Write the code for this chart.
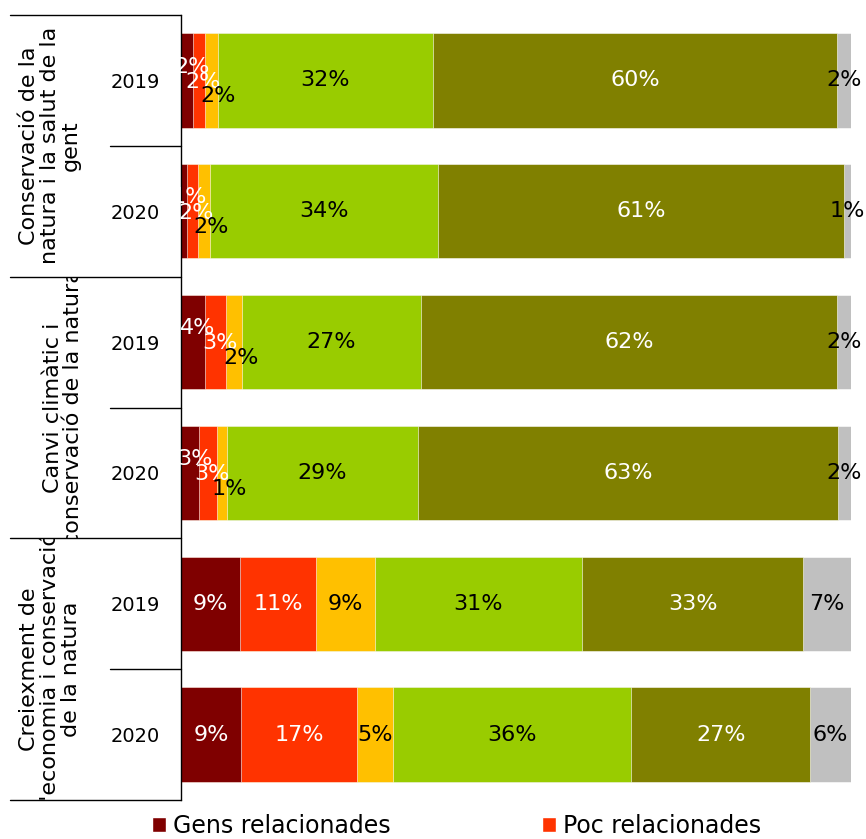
import numpy as np, pandas as pd, seaborn as sns, matplotlib.pyplot as plt
from matplotlib.patches import Rectangle, Patch
from matplotlib.transforms import blended_transform_factory

# dades (percentatges llegits de la figura)
groups = [
    "Conservació de la\nnatura i la salut de la\ngent",
    "Canvi climàtic i\nconservació de la natura",
    "Creiexment de\nl'economia i conservació\nde la natura",
]
years = ["2019", "2020"]
legend_labels = ["Gens relacionades", "Poc relacionades"]

conservacio_2019 = [1.8, 1.8, 1.9, 32.1, 60.3, 2.1]
conservacio_2020 = [0.9, 1.6, 1.9, 34.0, 60.6, 1.0]
clima_2019 = [3.6, 3.1, 2.4, 26.7, 62.1, 2.1]
clima_2020 = [2.7, 2.7, 1.4, 28.6, 62.6, 2.0]
economia_2019 = [8.8, 11.3, 8.8, 31.0, 32.9, 7.2]
economia_2020 = [9.0, 17.2, 5.4, 35.6, 26.7, 6.1]

colors = ["#7f0000", "#ff3300", "#ffc000", "#99cc00", "#808000", "#c0c0c0"]
text_colors = ["white", "white", "black", "black", "white", "black"]

rows = [conservacio_2019, conservacio_2020, clima_2019, clima_2020,
        economia_2019, economia_2020]
row_keys = [f"{g}|{y}" for g in range(len(groups)) for y in years]

recs = []
for key, vals in zip(row_keys, rows):
    ends = np.cumsum(vals)
    for k, (v, e) in enumerate(zip(vals, ends)):
        recs.append({"row": key, "seg": k, "value": v, "end": e, "start": e - v})
df = pd.DataFrame(recs)

sns.set_style("white")
plt.rcParams["font.family"] = ["DejaVu Sans"]
plt.rcParams["text.color"] = "black"
plt.rcParams["ytick.color"] = "black"

fig = plt.figure(figsize=(8.66, 8.39), dpi=100)
ax = fig.add_axes([181 / 866, 1 - 800 / 839, 670 / 866, 785 / 839])

# barres apilades: de la suma total cap a la primera
for k in reversed(range(len(colors))):
    sns.barplot(
        data=df[df["seg"] == k], x="end", y="row", order=row_keys,
        color=colors[k], saturation=1, width=0.72, orient="h",
        errorbar=None, edgecolor="white", linewidth=0.4, ax=ax,
    )

ax.set_xlim(0, 100)
ax.set_ylim(len(row_keys) - 0.5, -0.5)
ax.set_xlabel("")
ax.set_ylabel("")
ax.set_xticks([])
ax.set_yticks(range(len(row_keys)))
ax.set_yticklabels(years * len(groups), fontsize=14, color="black")
ax.tick_params(axis="y", length=0, pad=15)
sns.despine(ax=ax, bottom=True)
ax.spines["left"].set_color("black")
ax.spines["left"].set_linewidth(1)

# etiquetes de percentatge
small_off = [(3.5, 10), (3, -1), (5, -11.5)]
for _, r in df.iterrows():
    i = row_keys.index(r["row"])
    k = int(r["seg"])
    off = (0, 0)
    if k < 3 and r["value"] < 5:
        off = small_off[k]
    ax.annotate(f"{round(r['value'])}%", (r["start"] + r["value"] / 2, i),
                xytext=off, textcoords="offset points", ha="center",
                va="center", fontsize=16, color=text_colors[k],
                annotation_clip=False)

# eix de categories de dos nivells
blend = blended_transform_factory(fig.transFigure, ax.transData)
for b in [-0.5, 1.5, 3.5, 5.5]:
    ax.plot([10 / 866, 181 / 866], [b, b], color="black", lw=1,
            transform=blend, clip_on=False)
for b in [0.5, 2.5, 4.5]:
    ax.plot([110 / 866, 181 / 866], [b, b], color="black", lw=1,
            transform=blend, clip_on=False)

group_x = [50, 63, 50]
for g, name in enumerate(groups):
    y0 = 2 * g - 0.5
    t = ax.text(group_x[g] / 866, 2 * g + 0.5, name, transform=blend,
                rotation=90, ha="center", va="center", multialignment="center",
                fontsize=16, linespacing=1.05, color="black", clip_on=True)
    clip = Rectangle((5 / 866, y0), 105 / 866, 2, transform=blend)
    t.set_clip_path(clip)

handles = [Patch(facecolor=c) for c in colors[:2]]
fig.legend(handles, legend_labels, ncol=2, loc="center left",
           bbox_to_anchor=(152 / 866, 1 - 826 / 839), frameon=False,
           fontsize=17, handlelength=0.6, handleheight=0.6,
           handletextpad=0.3, columnspacing=6.4, borderpad=0,
           borderaxespad=0)

fig.savefig("out.png", dpi=100)
